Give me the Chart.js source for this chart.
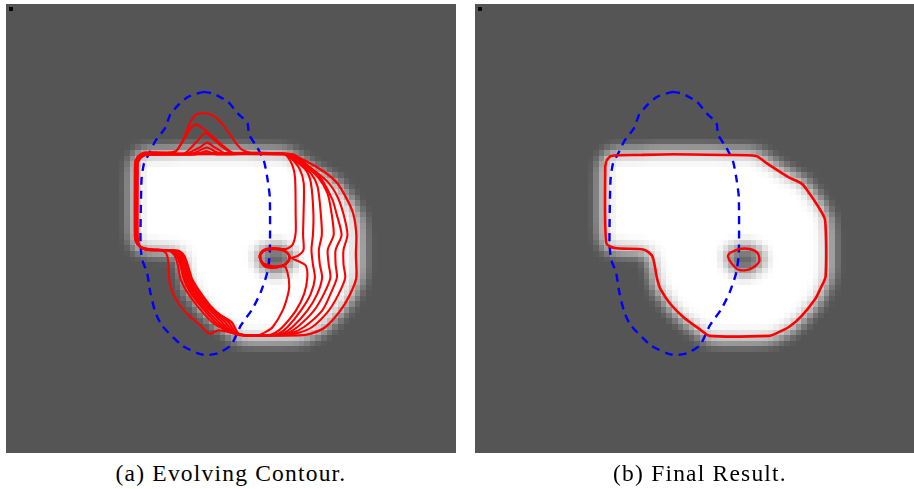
<!DOCTYPE html>
<html><head><meta charset="utf-8">
<script src="https://cdn.jsdelivr.net/npm/chart.js@4.4.1/dist/chart.umd.min.js"></script>
<style>
html,body{margin:0;padding:0;background:#fff;width:914px;height:489px;overflow:hidden;}
.panel{position:absolute;top:4px;width:450px;height:449px;background:#555555;overflow:hidden}
#pa{left:6px} #pb{left:475px}
.img{position:absolute;left:0;top:0;image-rendering:pixelated;}
.ctr{position:absolute;left:0;top:0;}
.cap{position:absolute;top:461px;width:450px;text-align:center;font-family:"Liberation Serif",serif;font-size:23.5px;line-height:24px;letter-spacing:1.2px;color:#000}
</style></head>
<body>
<div class="panel" id="pa">
  <canvas id="ia" class="img" width="80" height="80" style="width:450px;height:449px"></canvas>
  <canvas id="ca" class="ctr" width="450" height="449" style="width:450px;height:449px"></canvas>
</div>
<div class="panel" id="pb">
  <canvas id="ib" class="img" width="80" height="80" style="width:450px;height:449px"></canvas>
  <canvas id="cb" class="ctr" width="450" height="449" style="width:450px;height:449px"></canvas>
</div>
<div class="cap" style="left:6px">(a) Evolving Contour.</div>
<div class="cap" style="left:475px">(b) Final Result.</div>
<script>
// ---- data (panel pixel frame, x 6..456, y 4..453 from top) ----
const blueInitial = [[202.7,90],[212.7,91.7],[227.7,100],[237.7,111.7],[247.7,121.7],[249.3,133.3],[257.7,146.7],[264.3,160],[267.7,176.7],[270.3,196.7],[270.3,253.3],[267.7,273.3],[261,293.3],[252.7,310],[241,326.7],[231,346.7],[217.7,355],[206,356.7],[197.7,355],[181,346.7],[161,326.7],[154.3,313.3],[149.3,293.3],[146,273.3],[141,260],[139.3,243.3],[140.3,180],[142.7,163.3],[147.7,153.3],[154.3,140],[164.3,126.7],[169.3,113.3],[177.7,103.3],[187.7,95],[202.7,90]];

const redK1 = [[134,160],[137,155],[143,151.5],[160,151.5],[172,151],[177.3,148],[183.3,137],[190,120],[196,113],[203.3,111.7],[210,113],[216.7,116.7],[224,125],[230,133.3],[236,142],[242,148.5],[250,151.5],[270,152],[280,152.5],[287,154.3],[293.7,166],[296,179.3],[296.5,214],[296.5,233],[293.3,245],[286.7,249.3],[273.3,248.3],[263.3,250.7],[260,256.7],[263.3,263.3],[273.3,266.7],[285,266.7],[288.3,273.3],[290,286.7],[288,298],[283.3,311.7],[273.3,328.3],[266.7,333],[258.3,336.7],[240,336.7],[228.3,333.3],[218.3,331.7],[210,335],[206.7,333.3],[198.3,325],[188.3,316.7],[178.3,305],[171.7,293.3],[168.3,280],[167.7,263.3],[165,253.3],[158.3,250],[145,249.5],[139,247],[135,243],[133.5,236],[133.5,168],[134,160]];
const redK2 = [[134.5,160],[137.5,155.5],[143.5,152],[165,152],[172,152],[175.7,150],[184,137],[189,128.3],[195.7,123.3],[204,128.3],[214,137],[222,144],[229,149.5],[234,152],[260,152.5],[283,152.7],[290.3,156],[300.3,167.7],[304.7,182.7],[304.5,214],[304,235],[304.5,250],[299,256],[292.5,258.5],[299,261.5],[306.7,266],[308.3,278.3],[305,295],[296.7,311.7],[283.3,328.3],[276,334],[268,336.7],[242,336.5],[225,331],[211.7,323.3],[196.7,306.7],[186,292],[180,280],[177,265],[174,256],[168,251],[150,249.5],[140,247.5],[136,244],[134,237],[134,168],[134.5,160]];
const redK3 = [[135,160],[138,156],[144,152.5],[183,152.5],[186.7,150.5],[196.7,140],[205,131.7],[213.3,138.3],[220,144],[228,150],[232,152.5],[260,153],[285.3,152.7],[295.3,159.3],[307,169.3],[312,182.7],[314.5,214],[314,235],[312.5,250],[314,265],[316,278.3],[311.7,295],[301.7,311.7],[288.3,328.3],[280,334.5],[270,336.7],[243,336.5],[228,332],[215,323.3],[200,306.7],[189,292],[183.3,280],[179.5,265],[176,256],[170,251],[150,250],[141,248],[136.5,244.5],[134.5,237],[134.5,168],[135,160]];
const redK4 = [[135.5,160.5],[138.5,156],[144.5,153],[186,153],[190,151],[200,146],[206.7,141.5],[214,146],[222,151],[226,153],[287,153],[298.7,161],[312,172.7],[318.7,186],[322,214],[323,235],[320,250],[321,265],[323.3,278.3],[318.3,295],[308.3,311.7],[293.3,328.3],[284,334.5],[272,336.7],[243,336.5],[230,332.5],[218.3,323.3],[202.3,306.7],[191,292],[185,280],[181,265],[177.5,256],[171.5,251],[150,250],[141,248],[137,244.5],[135,237],[135,168],[135.5,160.5]];
const redK5 = [[135.5,160.5],[138.5,156],[144.5,153],[190,153],[197,150.5],[206.7,146.5],[215,150.5],[222,153],[289,153],[303.7,162.7],[318.7,176],[328.7,192.7],[333,214],[335,235],[329,250],[330,265],[331.7,278.3],[325,295],[315,311.7],[298.3,328.3],[288,334.5],[274,336.7],[244,336.5],[232,333],[221.7,323.3],[205,306.7],[193,292],[186.7,280],[182.5,265],[179,256],[173,251],[150,250],[141.5,248.5],[137.5,245],[135,237],[135,168],[135.5,160.5]];
const redK6 = [[136,161],[139,156.5],[145,153.5],[195,153.5],[206,150],[216,153.5],[291,153],[307,164.3],[322,177.7],[333.7,199.3],[338,214],[343,235],[337,250],[337,265],[338.3,278.3],[331.7,295],[323.3,311.7],[305,328.3],[292,334.5],[276,336.7],[244,336.5],[234,333.5],[225,323.3],[206.7,306.7],[195,292],[188.3,280],[184,265],[180.5,256],[174.5,251],[150,250.5],[142,249],[138,245.5],[135.5,238],[135.5,168],[136,161]];
const redK7 = [[136,161],[139,156.5],[145,153.5],[293,153],[310.3,166],[328.7,181],[338.7,196],[345,214],[349,235],[345,250],[345,265],[346.7,278.3],[340,295],[330,311.7],[313.3,328.3],[298,334.5],[278,336.7],[245,336.5],[236,334],[228.3,323.3],[208.3,306.7],[197,292],[190,280],[185.5,265],[182,256],[176,251],[150,250.5],[142,249],[138,245.5],[136,238],[136,168],[136,161]];
const redK8 = [[136.5,161.5],[139.5,157],[145.5,154],[290,153.5],[305.3,159.3],[325.3,171],[338.7,182.7],[348.7,199.3],[355,214],[358,235],[357.5,255],[358,278.3],[351.7,295],[341.7,311.7],[326.7,328.3],[312,335],[300,336.7],[245,336.5],[238,334.5],[231.5,323.3],[220,316],[210,306.7],[199,292],[191.7,280],[187,265],[183.5,256],[177,251],[150,250.5],[142.5,249.5],[138.5,246],[136.5,238],[136.5,168],[136.5,161.5]];
const holeLoop1 = [[260,256],[263,251.5],[270,249],[280,249],[287,252],[291,258],[287,264],[278,267.5],[268,267],[262,263],[260,256]];
const holeLoop2 = [[261,255],[265,250.5],[273,249.5],[283,250.5],[289,254],[290,259],[285,265],[275,268],[266,266],[261.5,261],[261,255]];
const holeLoop3 = [[259.5,257],[262,252.5],[268,250],[277,249.5],[285,251],[290,256],[289,262],[283,266.5],[272,268.5],[264,266],[259.5,257]];

const finalContour = [[136,160],[141,155],[171,154],[204,153.3],[254,154],[287.7,155],[297.7,161.7],[307.7,168.3],[321,176.7],[334.3,183.3],[341,191.7],[351,206.7],[357.7,220],[358.3,276.7],[352.7,290],[347.7,300],[334.3,316.7],[321,328.3],[307.7,335],[301,337.3],[241,337.3],[231,330.7],[214.3,318.3],[201,305],[191,290],[187.7,280],[182.7,256.7],[174.3,250],[144.3,248.3],[136,243.3],[135,166.7],[136,160]];
const finalHole = [[261,253.3],[271,249.3],[281,249.3],[289.3,253.3],[291,261.7],[284.3,268.3],[277.7,270.7],[269.3,270],[262.7,263.3],[259.3,256.7],[261,253.3]];
const cornerMark = [[8,6]];

// ---- helpers ----
const P = a => a.map(p => ({x: p[0], y: p[1]}));
const scales = {
  x: {type: 'linear', min: 6, max: 456, display: false},
  y: {type: 'linear', min: 4, max: 453, reverse: true, display: false}
};
const baseOpts = {
  responsive: false, animation: false, devicePixelRatio: 1,
  layout: {padding: 0},
  plugins: {legend: {display: false}, tooltip: {enabled: false}, title: {display: false}},
  scales: scales,
  elements: {point: {radius: 0, hoverRadius: 0}}
};
const blurPlugin = {
  id: 'blurImg',
  beforeDatasetsDraw(chart) { chart.ctx.save(); chart.ctx.filter = 'blur(0.95px)'; },
  afterDatasetsDraw(chart) { chart.ctx.restore(); }
};
function imageChart(id) {
  new Chart(document.getElementById(id), {
    type: 'line',
    data: {datasets: [
      {data: P(finalHole), fill: 'shape', backgroundColor: '#555555', borderColor: '#555555', borderWidth: 1, tension: 0.3, pointRadius: 0},
      {data: P(finalContour), fill: 'shape', backgroundColor: '#ffffff', borderColor: '#ffffff', borderWidth: 1, tension: 0.2, pointRadius: 0}
    ]},
    options: baseOpts,
    plugins: [blurPlugin]
  });
}
function redDs(arr, w) {
  return {data: P(arr), showLine: true, fill: false, borderColor: '#ff0000', borderWidth: w, tension: 0.25, pointRadius: 0, borderJoinStyle: 'round'};
}
const blueDs = {data: P(blueInitial), showLine: true, fill: false, borderColor: '#0000ff', borderWidth: 2.4, borderDash: [8, 6], tension: 0.2, pointRadius: 0};
const markDs = {data: P(cornerMark), showLine: false, pointStyle: 'rect', pointRadius: 2.9, backgroundColor: '#000', borderWidth: 0};

imageChart('ia');
imageChart('ib');

new Chart(document.getElementById('ca'), {
  type: 'line',
  data: {datasets: [
    markDs,
    redDs(redK1, 2.1), redDs(redK2, 2.1), redDs(redK3, 2.1), redDs(redK4, 2.1),
    redDs(redK5, 2.1), redDs(redK6, 2.1), redDs(redK7, 2.1), redDs(redK8, 2.3),
    redDs(holeLoop1, 2.1), redDs(holeLoop2, 2.1), redDs(holeLoop3, 2.1),
    Object.assign({}, blueDs)
  ]},
  options: baseOpts
});
new Chart(document.getElementById('cb'), {
  type: 'line',
  data: {datasets: [
    Object.assign({}, markDs, {data: P(cornerMark)}),
    redDs(finalContour, 2.6), redDs(finalHole, 2.4),
    Object.assign({}, blueDs, {data: P(blueInitial)})
  ]},
  options: baseOpts
});
</script>
</body></html>
